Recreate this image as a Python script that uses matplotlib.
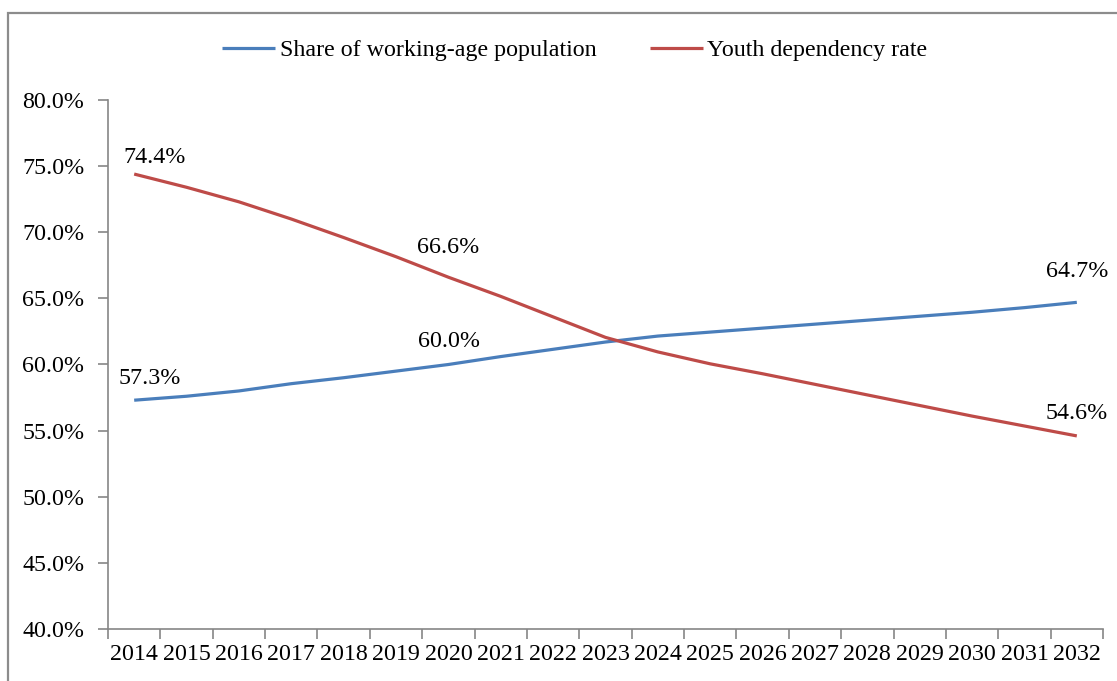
import numpy as np
import matplotlib.pyplot as plt
from matplotlib.patches import Rectangle
from matplotlib.ticker import FuncFormatter, FixedLocator

years = [str(y) for y in range(2014, 2033)]
working_age = [57.3, 57.6, 58.0, 58.55, 59.0, 59.5, 60.0, 60.6, 61.15, 61.7, 62.15,
               62.45, 62.75, 63.05, 63.35, 63.65, 63.95, 64.3, 64.7]
youth_dep = [74.4, 73.4, 72.3, 71.0, 69.6, 68.15, 66.6, 65.15, 63.6, 62.05, 60.95,
             60.05, 59.3, 58.5, 57.7, 56.9, 56.1, 55.35, 54.6]

plt.rcParams['font.family'] = ['Liberation Serif', 'DejaVu Serif']
FS = 17.3

W, H = 1117, 681
fig = plt.figure(figsize=(W / 100, H / 100), dpi=100)
ax = fig.add_axes([108 / W, 1 - 629 / H, (1103 - 108) / W, (629 - 100) / H])

# outer chart border (cut off at right and bottom)
fig.patches.append(Rectangle((8 / W, -0.05), 1.2, (H - 13) / H + 0.05,
                             transform=fig.transFigure, fill=False,
                             edgecolor='#8c8c8c', linewidth=1.6))

x = np.arange(len(years))
blue = '#4A7EBB'
red = '#BE4B48'
ax.plot(x, working_age, color=blue, lw=2.3, label='Share of working-age population',
        solid_capstyle='butt', solid_joinstyle='round')
ax.plot(x, youth_dep, color=red, lw=2.3, label='Youth dependency rate',
        solid_capstyle='butt', solid_joinstyle='round')

# data labels (index, series, pixel offset)
labels = [(0, working_age, 16, 22), (6, working_age, 1, 23), (18, working_age, 0, 31),
          (0, youth_dep, 20, 17), (6, youth_dep, 0, 30), (18, youth_dep, 0, 22)]
for i, s, dx, dy in labels:
    ax.annotate(f'{s[i]:.1f}%', (x[i], s[i]), xytext=(dx, dy), textcoords='offset pixels',
                ha='center', va='center', fontsize=FS)

ax.set_xlim(-0.5, len(years) - 0.5)
ax.set_ylim(40, 80)
ax.set_yticks(np.arange(40, 80.1, 5))
ax.yaxis.set_major_formatter(FuncFormatter(lambda v, p: f'{v:.1f}%'))
ax.set_xticks(x)
ax.set_xticklabels(years)
ax.xaxis.set_minor_locator(FixedLocator(np.arange(-0.5, len(years), 1)))
ax.tick_params(axis='x', which='major', length=0, pad=11, labelsize=FS)
ax.tick_params(axis='x', which='minor', length=7, color='#868686', width=1.2)
ax.tick_params(axis='y', length=7, color='#868686', width=1.2, labelsize=FS, pad=10)

for side in ['top', 'right']:
    ax.spines[side].set_visible(False)
for side in ['left', 'bottom']:
    ax.spines[side].set_color('#868686')
    ax.spines[side].set_linewidth(1.2)

fig.legend(loc='center', bbox_to_anchor=(575 / W, 1 - 50 / H), ncol=2, frameon=False,
           fontsize=FS, handlelength=2.2, columnspacing=2.2, handletextpad=0.2)

fig.savefig('out.png', dpi=100)
